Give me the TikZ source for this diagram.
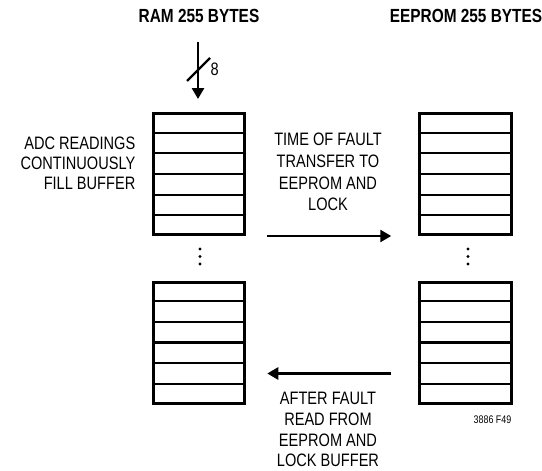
\documentclass[tikz,border=0pt]{standalone}
\usepackage{fontspec}
\newfontfamily\condfont{Liberation Sans}[FakeStretch=0.81]
\usetikzlibrary{arrows.meta,calc,positioning}

\begin{document}
\begin{tikzpicture}[x=1pt, y=-1pt,
    buffer/.style={draw, line width=3pt, minimum width=91.5pt, minimum height=121pt, inner sep=0pt},
    note/.style={font=\condfont\fontsize{18}{21.7}\selectfont, align=center, inner sep=0pt},
    title/.style={font=\condfont\bfseries\fontsize{19}{22}\selectfont, inner sep=0pt},
    flow/.style={line width=2.6pt, -{Triangle[width=12pt,length=11pt]}}]

    \useasboundingbox (0,0) rectangle (542,471);

    % Titles
    \node[title] (ramtitle) at (199,16) {RAM 255 BYTES};
    \node[title] (eetitle) at (466,16) {EEPROM 255 BYTES};

    % Draw the buffers
    \node[buffer] (ramA) at (199,174) {};
    \node[buffer] (ramB) at (199,342.5) {};
    \node[buffer] (eeA) at (465.5,174) {};
    \node[buffer] (eeB) at (465.5,342.5) {};

    % Rows of each buffer
    \foreach \b in {ramA,ramB,eeA,eeB}
      \foreach \k in {1,...,5} {
        \draw[line width=2.1pt] ($(\b.north west)!\k/6!(\b.south west)$) -- ($(\b.north east)!\k/6!(\b.south east)$);
      }

    % Dots between the halves
    \foreach \x in {200,468}
      \foreach \y in {249,256.5,264} {
        \fill (\x,\y) circle (1.6pt);
      }

    % Input bus
    \coordinate (busin) at (198,42);
    \draw[flow, shorten >=13pt] (busin) -- (busin |- ramA.north);
    \draw[line width=2.2pt] (187,81) -- (210,58);
    \node[note, anchor=west] (buswidth) at (210.5,69) {8};

    % Texts
    \node[note, align=right, anchor=east, font=\condfont\fontsize{18}{20}\selectfont] (fill) at (135.5,163.5)
      {ADC READINGS\\CONTINUOUSLY\\FILL BUFFER};
    \node[note] (transfer) at (328,172) {TIME OF FAULT\\TRANSFER TO\\EEPROM AND\\LOCK};
    \node[note, font=\condfont\fontsize{18}{20.8}\selectfont] (readback) at (328,429.5) {AFTER FAULT\\READ FROM\\EEPROM AND\\LOCK BUFFER};
    \node[font=\condfont\fontsize{11}{12}\selectfont, inner sep=0pt] (figno) at (492.5,420) {3886 F49};

    % Arrows
    \draw[flow] ([xshift=21pt]ramA.south east) -- ([xshift=-27pt]eeA.south west);
    \draw[flow] ([xshift=-27pt,yshift=31pt]eeB.south west) -- ([xshift=21pt,yshift=31pt]ramB.south east);

\end{tikzpicture}
\end{document}
